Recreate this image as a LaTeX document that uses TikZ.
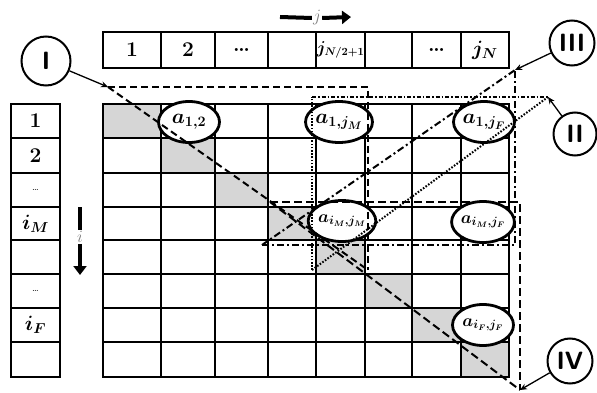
\documentclass[tikz,border=0pt]{standalone}
\usepackage{amsmath}
\usepackage{bm}
\usetikzlibrary{positioning, arrows.meta, shapes.geometric}
\colorlet{cellshade}{black!16}
\colorlet{axisgrey}{black!50}

\begin{document}
\begin{tikzpicture}[x=1pt, y=-1pt,
    hcell/.style={draw, line width=1.7pt, minimum height=36pt, inner sep=0pt,
        font=\fontsize{21}{21}\selectfont\bfseries},
    vcell/.style={draw, line width=1.7pt, minimum width=49pt, inner sep=0pt,
        font=\fontsize{21}{21}\selectfont\bfseries},
    gridline/.style={line width=1.4pt},
    elem/.style={ellipse, draw, line width=2.8pt, fill=white, minimum width=61pt,
        minimum height=41pt, inner sep=0pt, font=\fontsize{22}{22}\selectfont\boldmath},
    elemsm/.style={elem, font=\fontsize{17}{17}\selectfont\boldmath},
    tag/.style={circle, draw, line width=2pt, minimum size=45pt, inner sep=0pt,
        font=\fontsize{25}{25}\selectfont\sffamily\bfseries},
    ptr/.style={-{Stealth[length=7pt, width=6pt]}, line width=1.3pt},
    axis/.style={line width=4pt},
    axisarr/.style={line width=4pt, -{Triangle[length=9pt, width=13pt]}},
    axislbl/.style={inner sep=1pt, text=axisgrey, font=\fontsize{16}{16}\selectfont},
    regI/.style={line width=2pt, dash pattern=on 7pt off 4pt},
    regII/.style={line width=2pt, dash pattern=on 4pt off 2pt on 1.5pt off 2pt},
    regIIdot/.style={line width=2pt, dash pattern=on 1.6pt off 1.6pt},
    regIII/.style={line width=2pt, dash pattern=on 7pt off 3pt on 2pt off 3pt},
    regIV/.style={line width=2pt, dash pattern=on 8pt off 4pt},
]
\useasboundingbox (0,0) rectangle (597,393);

% ===== Diagonal cells =====
\foreach \xa/\xb/\ya/\yb in {103/161/104/138, 161/215/138/173, 215/268/173/207,
    268/316/207/240, 316/365/240/274, 365/412/274/308, 412/461/308/342, 461/509/342/377}
  \fill[cellshade] (\xa,\ya) rectangle (\xb,\yb);

% ===== Matrix grid =====
\draw[gridline] (103,104) rectangle (509,377);
\foreach \x in {161,215,268,316,365,412,461}
  \draw[gridline] (\x,104) -- (\x,377);
\foreach \y in {138,173,207,240,274,308,342}
  \draw[gridline] (103,\y) -- (509,\y);

% ===== Column indices =====
\node[hcell, minimum width=58pt] (h1) at (132,50) {1};
\node[hcell, minimum width=54pt] (h2) at (188,50) {2};
\node[hcell, minimum width=53pt] (h3) at (241.5,50) {\dots};
\node[hcell, minimum width=48pt] (h4) at (292,50) {};
\node[hcell, minimum width=49pt, font=\fontsize{16}{16}\selectfont] (h5) at (340.5,50)
  {$\bm{j}_{\bm{N/2+1}}$};
\node[hcell, minimum width=47pt] (h6) at (388.5,50) {};
\node[hcell, minimum width=49pt] (h7) at (436.5,50) {\dots};
\node[hcell, minimum width=48pt] (h8) at (485,50) {$\bm{j}_{\bm{N}}$};

\node[axislbl] (jlab) at (317,18) {$j$};
\coordinate (jstart) at (280,17);
\coordinate (jend) at (351,17);
\draw[axis] (jstart) -- (jlab.west);
\draw[axisarr] (jlab.east) -- (jend);

% ===== Row indices =====
\node[vcell, minimum height=34pt] (r1) at (35.5,121) {1};
\node[vcell, minimum height=35pt] (r2) at (35.5,155.5) {2};
\node[vcell, minimum height=34pt, font=\normalsize] (r3) at (35.5,190) {\dots};
\node[vcell, minimum height=33pt] (r4) at (35.5,223.5) {$\bm{i}_{\bm{M}}$};
\node[vcell, minimum height=34pt] (r5) at (35.5,257) {};
\node[vcell, minimum height=34pt, font=\normalsize] (r6) at (35.5,291) {\dots};
\node[vcell, minimum height=34pt] (r7) at (35.5,325) {$\bm{i}_{\bm{F}}$};
\node[vcell, minimum height=35pt] (r8) at (35.5,359.5) {};

\node[axislbl] (ilab) at (80,237) {$i$};
\coordinate (istart) at (80,207);
\coordinate (iend) at (80,275);
\draw[axis] (istart) -- (ilab.north);
\draw[axisarr] (ilab.south) -- (iend);

% ===== Selected elements =====
\node[elem] (e12) at (189,122) {$a_{1,2}$};
\node[elem] (e1M) at (339,122) {$a_{1,j_M}$};
\node[elem] (e1F) at (484,122) {$a_{1,j_F}$};
\node[elemsm] (eMM) at (342,221) {$a_{i_M,j_M}$};
\node[elemsm] (eMF) at (483,222) {$a_{i_M,j_F}$};
\node[elemsm] (eFF) at (483,325) {$a_{i_F,j_F}$};

% ===== Blocks =====
\coordinate (Ia) at (108,87);
\coordinate (Ib) at (368,87);
\coordinate (Ic) at (368,270);
\draw[regI] (Ia) -- (Ib) -- (Ic);
\draw[regI] (Ia) -- (Ic);

\coordinate (IIa) at (312,270);
\coordinate (IIb) at (312,97);
\coordinate (IIc) at (548,97);
\draw[regIIdot] (IIa) -- (IIb);
\draw[regII] (IIb) -- (IIc);
\draw[regIIdot] (IIa) -- (IIc);

\coordinate (IIIa) at (262,245);
\coordinate (IIIb) at (515,245);
\coordinate (IIIc) at (515,70);
\draw[regIII] (IIIa) -- (IIIb) -- (IIIc);
\draw[regIII] (IIIa) -- (IIIc);

\coordinate (IVa) at (270,202);
\coordinate (IVb) at (520,202);
\coordinate (IVc) at (520,390);
\draw[regIV] (IVa) -- (IVb) -- (IVc);
\draw[regIV] (IVa) -- (IVc);

% ===== Block tags =====
\node[tag, minimum width=49pt] (tI) at (46,61) {I};
\node[tag, minimum size=43pt] (tII) at (575,134) {II};
\node[tag] (tIII) at (572,43) {III};
\node[tag] (tIV) at (570,361) {IV};

\draw[ptr] (tI) -- (Ia);
\draw[ptr] (tII) -- (IIc);
\draw[ptr] (tIII) -- (IIIc);
\draw[ptr] (tIV) -- (IVc);

\end{tikzpicture}
\end{document}
